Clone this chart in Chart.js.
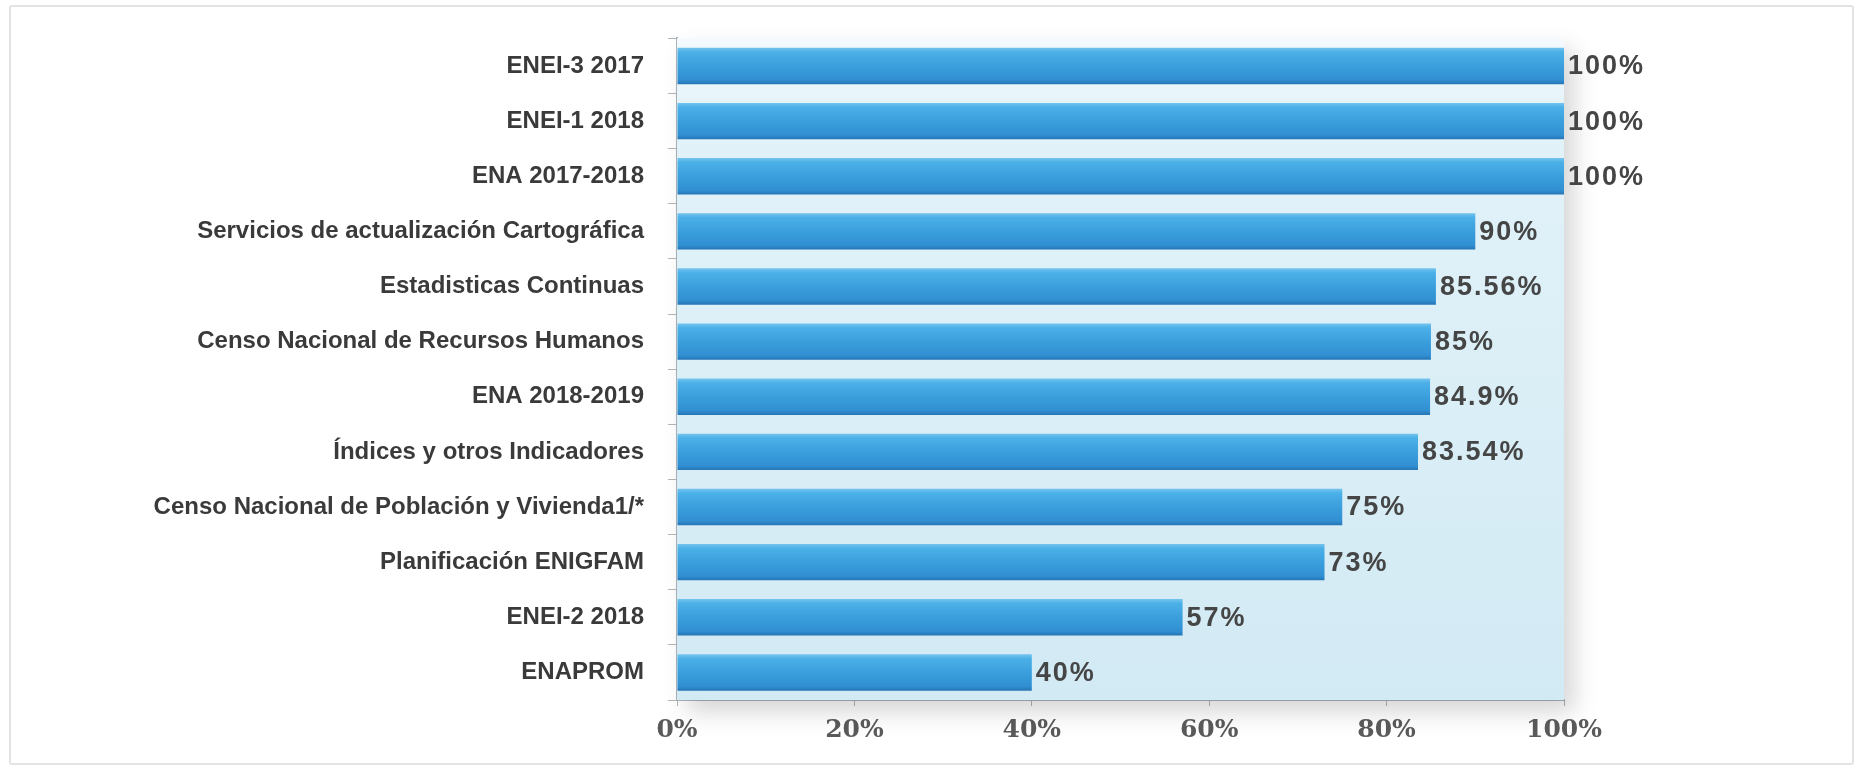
<!DOCTYPE html>
<html>
<head>
<meta charset="utf-8">
<script src="https://cdn.jsdelivr.net/npm/chart.js@4.4.1/dist/chart.umd.min.js"></script>
<style>
    html, body { margin: 0; padding: 0; background: #ffffff; }
    #wrap { position: relative; width: 1862px; height: 770px; }
    #frame { position: absolute; left: 9px; top: 5px; width: 1841px; height: 756px; border: 2px solid #e3e3e3; border-radius: 3px; pointer-events: none; }
</style>
</head>
<body>
<div id="wrap">
    <canvas id="avanceChart" width="1862" height="770"></canvas>
    <div id="frame"></div>
</div>
<script>
// data
let proyectos = ["ENEI-3 2017", "ENEI-1 2018", "ENA 2017-2018", "Servicios de actualización Cartográfica", "Estadisticas Continuas", "Censo Nacional de Recursos Humanos", "ENA 2018-2019", "Índices y otros Indicadores", "Censo Nacional de Población y Vivienda1/*", "Planificación ENIGFAM", "ENEI-2 2018", "ENAPROM"];
let avance = [100, 100, 100, 90, 85.56, 85, 84.9, 83.54, 75, 73, 57, 40];
let ticksX = [0, 20, 40, 60, 80, 100];

const BAR_PCT = 0.66;

// light blue plot background with a soft shadow
const plotBackground = {
    id: 'plotBackground',
    beforeDatasetsDraw(chart) {
        let ctx = chart.ctx;
        let a = chart.chartArea;
        ctx.save();
        let g = ctx.createLinearGradient(0, a.top, 0, a.bottom);
        g.addColorStop(0, '#f4fafd');
        g.addColorStop(0.12, '#e2f2f9');
        g.addColorStop(1, '#d2eaf4');
        ctx.shadowColor = 'rgba(0,0,0,0.16)';
        ctx.shadowBlur = 22;
        ctx.shadowOffsetX = 10;
        ctx.shadowOffsetY = 12;
        ctx.fillStyle = g;
        ctx.fillRect(a.left, a.top, a.right - a.left, a.bottom - a.top);
        ctx.restore();
    }
};

// value labels at the end of each bar
const valueLabels = {
    id: 'valueLabels',
    afterDatasetsDraw(chart) {
        let ctx = chart.ctx;
        let meta = chart.getDatasetMeta(0);
        ctx.save();
        ctx.font = 'bold 27px "Liberation Sans", Arial, sans-serif';
        ctx.fillStyle = '#454545';
        ctx.textAlign = 'left';
        ctx.textBaseline = 'middle';
        if ('letterSpacing' in ctx) ctx.letterSpacing = '2px';
        meta.data.forEach(function(bar, i) {
            ctx.fillText(avance[i] + '%', bar.x + 4, bar.y + 1);
        });
        ctx.restore();
    }
};

function barGradient(context) {
    let chart = context.chart;
    if (!chart.chartArea || !chart.scales.y) return '#3a9fdc';
    let y = chart.scales.y.getPixelForValue(context.dataIndex);
    let h = (chart.chartArea.bottom - chart.chartArea.top) / proyectos.length * BAR_PCT;
    let g = chart.ctx.createLinearGradient(0, y - h / 2, 0, y + h / 2);
    g.addColorStop(0, '#74c4ee');
    g.addColorStop(0.12, '#4cb0e8');
    g.addColorStop(0.5, '#3a9fdc');
    g.addColorStop(0.88, '#318fd2');
    g.addColorStop(1, '#2575b4');
    return g;
}

let ctxB = document.getElementById('avanceChart').getContext('2d');
let avanceChart = new Chart(ctxB, {
    type: 'bar',
    data: {
        labels: proyectos,
        datasets: [{
            data: avance,
            backgroundColor: barGradient,
            borderWidth: 0,
            barPercentage: BAR_PCT,
            categoryPercentage: 1
        }]
    },
    options: {
        indexAxis: 'y',
        responsive: false,
        animation: false,
        layout: { padding: { left: 10, right: 298, top: 32, bottom: 0 } },
        plugins: {
            legend: { display: false },
            tooltip: { enabled: false }
        },
        scales: {
            x: {
                min: 0,
                max: 100,
                afterBuildTicks(scale) {
                    scale.ticks = ticksX.map(v => ({ value: v }));
                },
                afterFit(scale) { scale.height = 70; },
                grid: { drawOnChartArea: false, drawTicks: true, tickLength: 6, color: '#b5b5b5' },
                border: { display: true, color: '#a9b4ba', width: 2 },
                ticks: {
                    padding: 9,
                    color: '#5a5a5a',
                    font: { family: '"DejaVu Serif", "Liberation Serif", serif', weight: 'bold', size: 25 },
                    callback: v => v + '%'
                }
            },
            y: {
                afterFit(scale) { scale.width = 667; },
                grid: { drawOnChartArea: false, drawTicks: true, tickLength: 9, color: '#b5b5b5' },
                border: { display: true, color: '#a9b4ba', width: 2 },
                ticks: {
                    padding: 24,
                    color: '#3a3a3a',
                    font: { family: '"Liberation Sans", Arial, sans-serif', weight: 'bold', size: 24 }
                }
            }
        }
    },
    plugins: [plotBackground, valueLabels]
});
</script>
</body>
</html>
